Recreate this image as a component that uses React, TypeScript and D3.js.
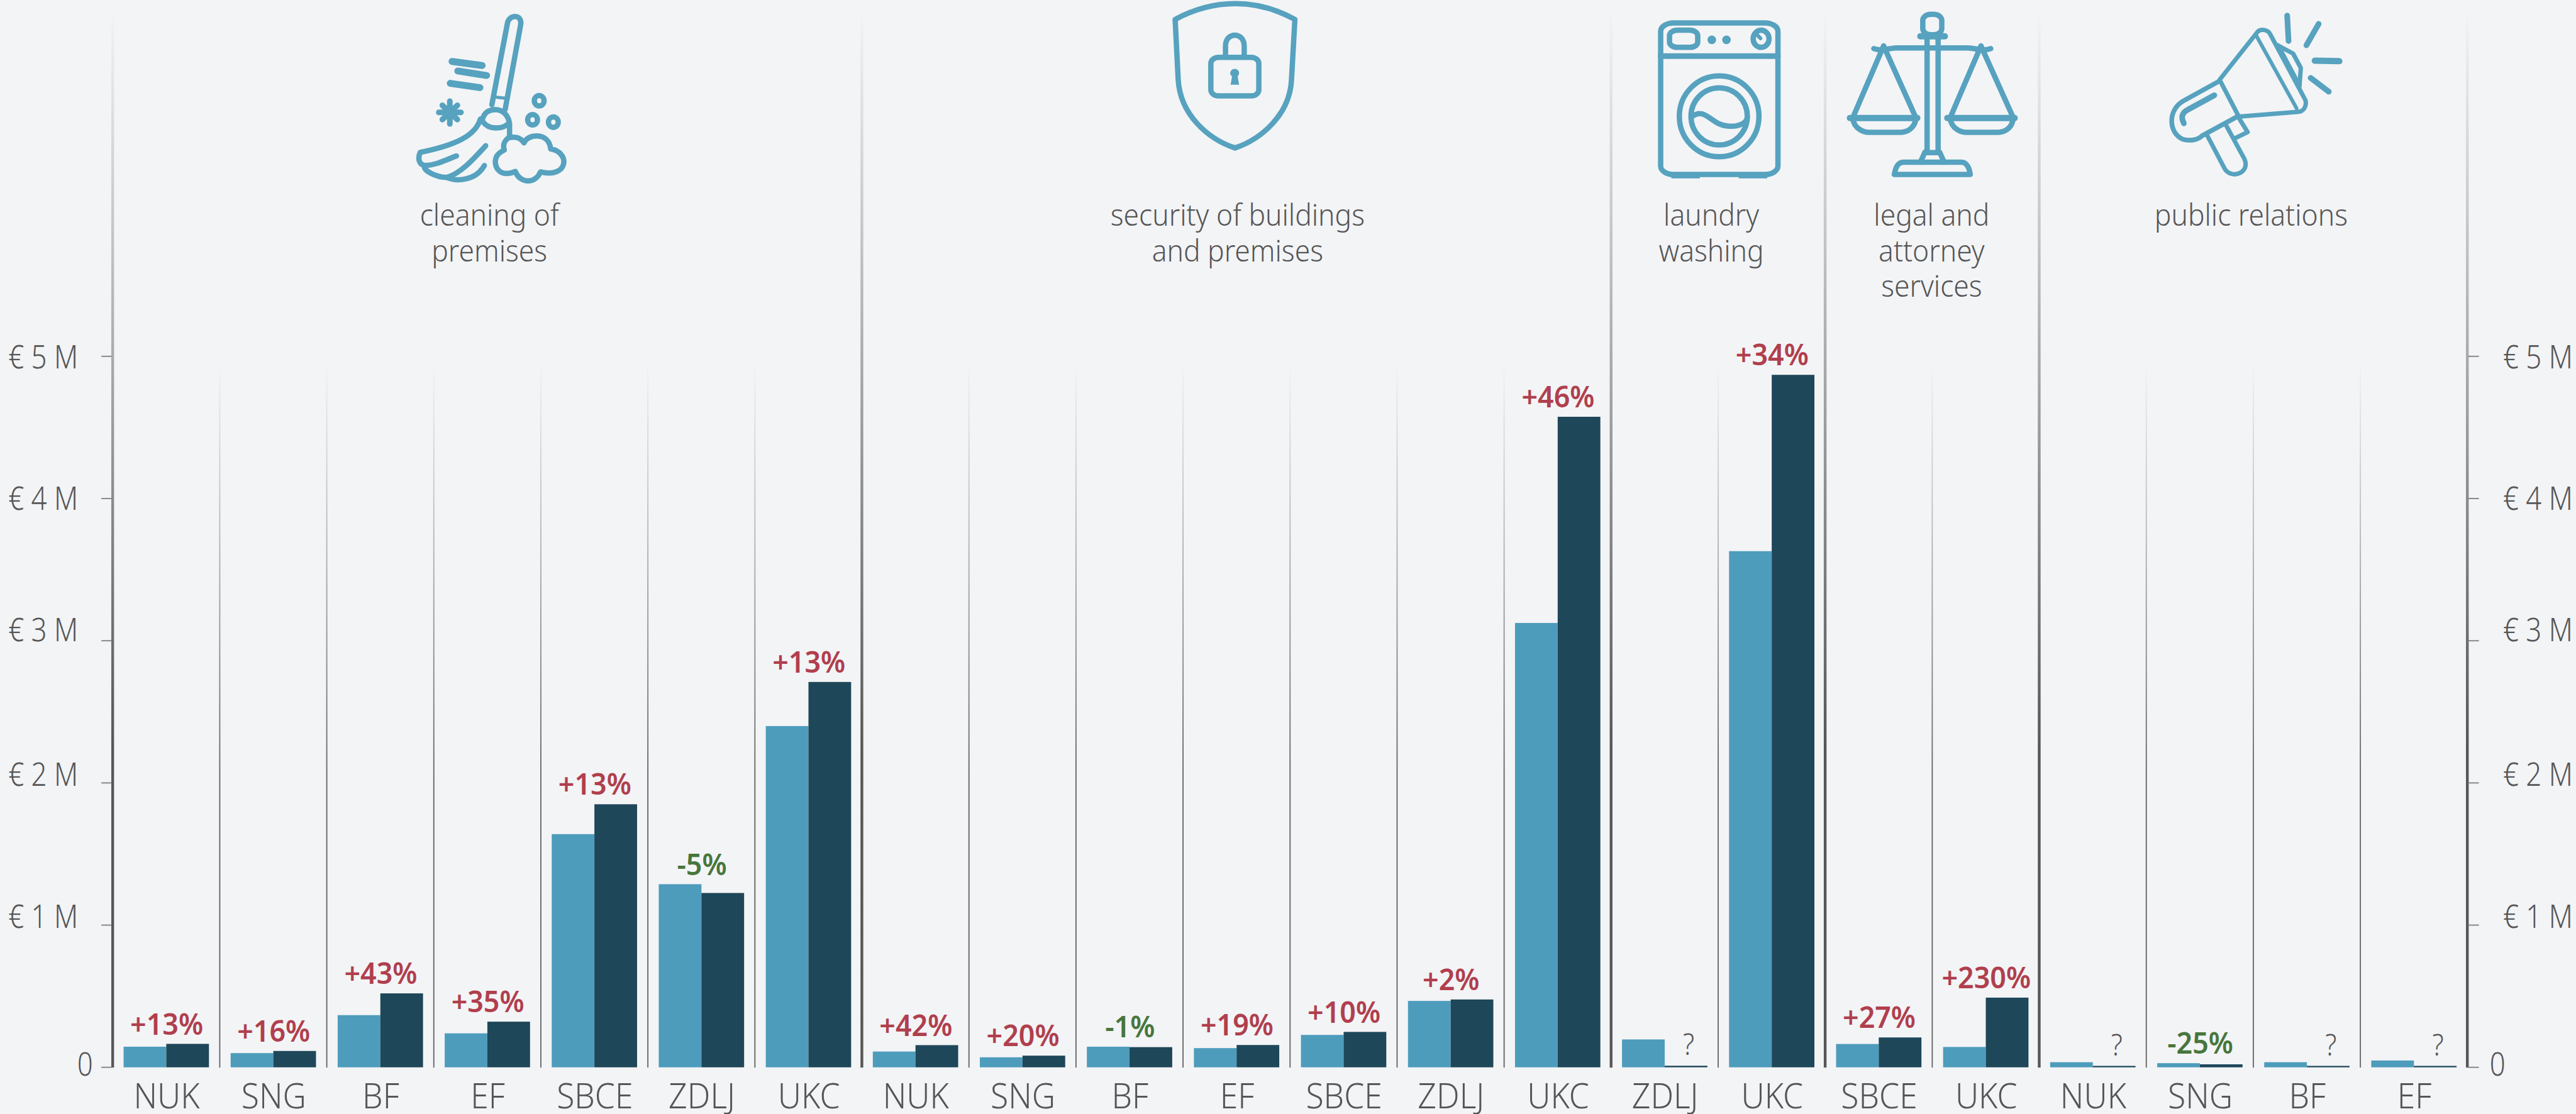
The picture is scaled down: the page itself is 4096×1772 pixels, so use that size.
import React from "react";
import * as d3 from "d3";

const categories = ["NUK","SNG","BF","EF","SBCE","ZDLJ","UKC","NUK","SNG","BF","EF","SBCE","ZDLJ","UKC","ZDLJ","UKC","SBCE","UKC","NUK","SNG","BF","EF"];
const valuesEarlier = [0.145,0.100,0.367,0.239,1.64,1.288,2.40,0.111,0.0705,0.145,0.135,0.228,0.467,3.125,0.196,3.63,0.164,0.143,0.036,0.029,0.036,0.048];
const valuesLater = [0.165,0.115,0.52,0.321,1.85,1.226,2.71,0.156,0.082,0.142,0.157,0.249,0.477,4.575,0.011,4.87,0.21,0.49,0.010,0.021,0.010,0.010];
const changes = ["+13%","+16%","+43%","+35%","+13%","-5%","+13%","+42%","+20%","-1%","+19%","+10%","+2%","+46%","?","+34%","+27%","+230%","?","-25%","?","?"];
const groupSizes = [7,7,2,2,4];
const groupTitles = [["cleaning of","premises"],["security of buildings","and premises"],["laundry","washing"],["legal and","attorney","services"],["public relations"]];
const tickValues = [0,1,2,3,4,5];
const tickLabels = ["0","€ 1 M","€ 2 M","€ 3 M","€ 4 M","€ 5 M"];

// layout (reference pixels)
const titleCenters = [917.5,2320,3208,3621,4220];
const tickBaselines = [2017.6,1740,1474,1202,956,690.7];
const W = 4829, H = 2089;
const FONT = "'Noto Sans', sans-serif";
const GRAY = "#565656", BLUE = "#4e9cbc", DARK = "#1e4759", RED = "#b03f4d", GREEN = "#47763c", ICON = "#56a2bf";
const TEXT_SX = 0.86;

const x = d3.scaleBand<number>().domain(categories.map((_, i) => i)).range([211.2, 4625.3]);
const inner = d3.scaleBand<string>().domain(["a","b"]).range([20.5, 180.5]);
const y = d3.scaleLinear().domain([0,5]).range([2001.5, 668.2]);

function Txt({ x, y, sx = TEXT_SX, children, ...rest }: any) {
  return <text transform={`translate(${x},${y}) scale(${sx},1)`} textAnchor="middle" fontFamily={FONT} {...rest}>{children}</text>;
}

const S: any = { fill: "none", stroke: ICON, strokeWidth: 8.5, vectorEffect: "non-scaling-stroke", strokeLinecap: "round", strokeLinejoin: "round" };
const P = (d: string, w?: number) => <path d={d} {...S} strokeWidth={w ?? 8.5} />;
const E = (cx: number, cy: number, rx: number, ry: number, w?: number) => <ellipse cx={cx} cy={cy} rx={rx} ry={ry} {...S} strokeWidth={w ?? 8.5} />;

function Broom() {
  return (
    <g transform={`scale(${1/1.206},${1/2.24})`}>
      {P("M1112 440L1147 100C1150 58 1182 58 1177 105L1142 460")}
      {P("M1118 407L1145 413",5)}
      {P("M1090 505C1095 470 1105 462 1120 460C1140 462 1150 490 1152 520L1152 575")}
      {P("M1092 512C1105 545 1135 545 1150 518")}
      {P("M1086 500C1075 570 1030 610 950 640C945 660 945 690 960 695C955 715 985 745 1010 745C1030 762 1075 762 1095 695")}
      {P("M960 695C985 695 1010 670 1032 655")}
      {P("M1098 612C1070 670 1040 730 1010 745")}
      {P("M1022 258L1090 275",11)}
      {P("M1035 298L1100 317",11)}
      {P("M1018 350L1085 368",11)}
      {P("M1017 425L1017 520",9)}
      {P("M992 472L1042 472",9)}
      {P("M1000 442L1034 502",9)}
      {P("M1034 442L1000 502",9)}
      {E(1219,423,11,22)}
      {E(1204,503,11,22)}
      {E(1251,513,11,22)}
      {P("M1150 578C1175 570 1180 590 1185 600C1190 565 1240 550 1245 625C1290 640 1285 750 1222 722C1210 775 1175 770 1165 720C1125 750 1115 690 1122 660C1125 645 1135 635 1140 630C1135 600 1145 585 1150 578Z")}
    </g>
  );
}
function Shield() {
  return (
    <g transform={`translate(1900,0) scale(${1/1.568},${1/2.613})`}>
      {P("M475 95C590 -8 715 -8 827 95L817 390C812 560 730 680 651 725C570 680 490 560 484 390Z")}
      <rect x={580} y={281} width={141} height={189} rx={22} ry={30} {...S} />
      {P("M623 270L623 225C623 155 678 155 678 225L678 270")}
      <ellipse cx={650} cy={358} rx={13} ry={21} fill={ICON} />
      <polygon points="643,368 658,368 663,415 638,415" fill={ICON} />
    </g>
  );
}
function Washer() {
  return (
    <g transform={`translate(3000,0) scale(${1/1.742},${1/2.613})`}>
      <rect x={197} y={112} width={383} height={743} rx={42} ry={42} {...S} />
      {P("M197 275L580 275",9)}
      <rect x={226} y={148} width={92} height={84} rx={26} ry={26} {...S} />
      <ellipse cx={364} cy={195} rx={14} ry={21} fill={ICON} />
      <ellipse cx={412} cy={195} rx={14} ry={21} fill={ICON} />
      {E(525,190,26,42)}
      {P("M513 172L523 188",6)}
      {E(388,570,130,198)}
      {E(388,570,92,140)}
      {P("M298 572C345 520 360 615 420 618C455 622 478 600 480 575")}
      <rect x={232} y={850} width={93} height={24} fill={ICON} />
      <rect x={452} y={850} width={93} height={24} fill={ICON} />
    </g>
  );
}
function Scales() {
  const pan = (dx: number) => (
    <g transform={`translate(${dx},0)`}>
      {P("M925 225L825 575")}
      {P("M925 225L1030 575")}
      {P("M815 578L1035 578",10)}
      {P("M825 585C830 630 860 650 880 648L975 648C1000 650 1025 630 1030 585")}
    </g>
  );
  return (
    <g transform={`translate(3000,0) scale(${1/1.742},${1/2.613})`}>
      {P("M1067 178L1067 748")}
      {P("M1103 178L1103 748")}
      <rect x={1053} y={70} width={62} height={100} rx={26} ry={30} {...S} />
      {P("M1045 178L1125 178",10)}
      {P("M893 238C915 250 930 240 965 235L1200 235C1235 240 1255 250 1275 238")}
      {pan(0)}
      {pan(318)}
      {P("M1067 748L1103 748")}
      {P("M1060 745L1045 795")}
      {P("M1108 745L1123 795")}
      {P("M960 855C965 810 975 795 990 795L1180 795C1195 795 1205 820 1208 855Z")}
    </g>
  );
}
function Megaphone() {
  return (
    <g transform={`translate(3800,0) scale(${1/1.524},${1/2.24})`}>
      {P("M550 335L655 140C665 115 690 125 695 145L795 420C800 445 790 470 772 470L605 490Z",7)}
      {P("M655 150L770 455",6)}
      {P("M716 190L760 225L782 285L778 365",7)}
      {P("M728 215L775 345",5)}
      {P("M550 340L445 425C400 465 405 560 445 585C470 595 490 585 500 570L600 490",7.5)}
      {P("M535 400L460 460C440 475 440 495 448 518",9)}
      {P("M515 570L565 710C585 755 640 725 620 665L570 530",7)}
      {P("M607 500L630 555L595 580",7)}
      {P("M743 65L747 172",9)}
      {P("M833 100L798 190",9)}
      {P("M822 255L892 257",10)}
      {P("M810 327L862 385",9)}
    </g>
  );
}

export default function App() {
  const starts = groupSizes.reduce<number[]>((acc, n, i) => { acc.push(i ? acc[i - 1] + groupSizes[i - 1] : 0); return acc; }, []);
  const boundaries = [...starts, categories.length];
  const edge = (i: number) => x(0)! + i * x.bandwidth();
  return (
    <svg viewBox={`0 0 ${W} ${H}`} width={4096} height={1772} style={{ position: "fixed", left: 0, top: 0, background: "#f3f4f6" }}>
      <defs>
        <linearGradient id="mainG" gradientUnits="userSpaceOnUse" x1={0} x2={0} y1={20} y2={1400}>
          <stop offset="0" stopColor="#575757" stopOpacity={0} />
          <stop offset="1" stopColor="#575757" stopOpacity={1} />
        </linearGradient>
        <linearGradient id="innerG" gradientUnits="userSpaceOnUse" x1={0} x2={0} y1={676} y2={1450}>
          <stop offset="0" stopColor="#666" stopOpacity={0} />
          <stop offset="1" stopColor="#666" stopOpacity={1} />
        </linearGradient>
      </defs>
      <rect width={W} height={H} fill="#f3f4f6" />

      {categories.map((_, i) => boundaries.includes(i) ? null : (
        <rect key={"s" + i} x={edge(i) - 1} y={676} width={2.2} height={y(0) - 676 + 0.5} fill="url(#innerG)" />
      ))}
      {boundaries.map((b, i) => (
        <rect key={"m" + i} x={edge(b) - 2.6} y={20} width={5.2} height={y(0) - 20 + 0.5} fill="url(#mainG)" />
      ))}

      {tickValues.map((t, i) => (
        <g key={t}>
          <line x1={190} x2={209} y1={y(t)} y2={y(t)} stroke="#8a8a8a" strokeWidth={2.4} />
          <line x1={4627} x2={4647} y1={y(t)} y2={y(t)} stroke="#8a8a8a" strokeWidth={2.4} />
          <Txt x={t === 0 ? 159.5 : 81} y={tickBaselines[i]} fontSize={60} fontWeight={340} fill={GRAY}>{tickLabels[i]}</Txt>
          <Txt x={t === 0 ? 4682 : 4757.5} y={tickBaselines[i]} fontSize={60} fontWeight={340} fill={GRAY}>{tickLabels[i]}</Txt>
        </g>
      ))}

      {categories.map((c, i) => {
        const x0 = x(i)!;
        const a = valuesEarlier[i], b = valuesLater[i];
        const ch = changes[i];
        const isQ = ch === "?";
        const col = isQ ? GRAY : ch.startsWith("-") ? GREEN : RED;
        const ly = isQ ? y(b) - 20 : y(Math.max(a, b)) - 17.5;
        const lx = isQ ? x0 + inner("b")! + inner.bandwidth() / 2 + 5 : x0 + x.bandwidth() / 2 + 1;
        return (
          <g key={i}>
            <rect x={x0 + inner("a")!} y={y(a)} width={inner.bandwidth()} height={y(0) - y(a)} fill={BLUE} />
            <rect x={x0 + inner("b")!} y={y(b)} width={inner.bandwidth()} height={y(0) - y(b)} fill={DARK} />
            <Txt x={lx} y={ly} sx={isQ ? 0.9 : 0.96} fontSize={isQ ? 56 : 55} fontWeight={isQ ? 340 : 650} fill={col}>{ch}</Txt>
            <Txt x={x0 + x.bandwidth() / 2 + 1} y={2078} sx={0.95} fontSize={64} fontWeight={340} fill={GRAY}>{c}</Txt>
          </g>
        );
      })}

      {groupTitles.map((lines, i) => lines.map((l, j) => (
        <Txt key={i + "-" + j} x={titleCenters[i]} y={423 + j * 67} sx={0.935} fontSize={56} fontWeight={340} fill={GRAY}>{l}</Txt>
      )))}

      <Broom /><Shield /><Washer /><Scales /><Megaphone />
    </svg>
  );
}
